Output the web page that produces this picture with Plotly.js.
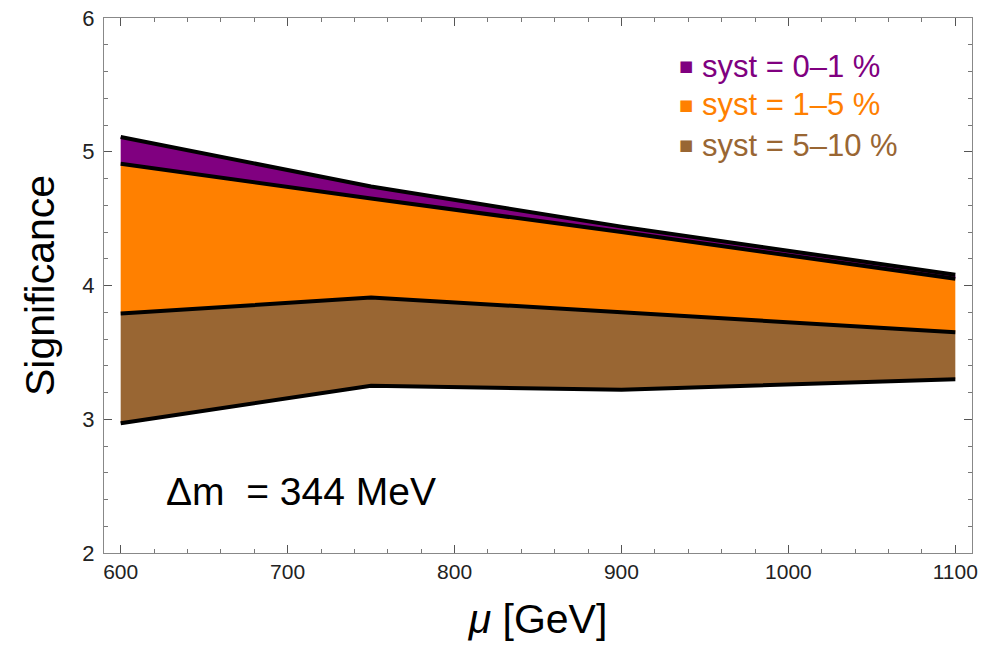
<!DOCTYPE html>
<html>
<head>
<meta charset="utf-8">
<script src="https://cdn.plot.ly/plotly-3.0.1.min.js"></script>
<style>
  html, body { margin: 0; padding: 0; background: #fff; }
  #chart { width: 1001px; height: 654px; }
</style>
</head>
<body>
<div id="chart"></div>
<script>
// Higgsino mass points (GeV)
const mu = [600, 750, 900, 1100];

// Significance for each systematic uncertainty level
const syst0  = [5.11, 4.74, 4.44, 4.08];
const syst1  = [4.91, 4.65, 4.40, 4.05];
const syst5  = [3.79, 3.91, 3.80, 3.65];
const syst10 = [2.97, 3.25, 3.22, 3.30];

const bandNames  = ['syst = 0\u20131 %', 'syst = 1\u20135 %', 'syst = 5\u201310 %'];
const bandColors = ['#800080', '#ff8000', '#996633'];

const massSplitting = '\u0394m  = 344 MeV';

const edge = { color: '#000', width: 4 };

const traces = [
  { x: mu, y: syst10, mode: 'lines', line: edge, hoverinfo: 'skip' },
  { x: mu, y: syst5, mode: 'lines', line: edge, fill: 'tonexty', fillcolor: bandColors[2], hoverinfo: 'skip' },
  { x: mu, y: syst1, mode: 'lines', line: edge, fill: 'tonexty', fillcolor: bandColors[1], hoverinfo: 'skip' },
  { x: mu, y: syst0, mode: 'lines', line: edge, fill: 'tonexty', fillcolor: bandColors[0], hoverinfo: 'skip' }
];

const textFont = 'Liberation Sans, Arial, sans-serif';

// Legend drawn as annotations: a coloured square followed by coloured text
const legendY = [5.64, 5.35, 5.05];
const annotations = [];
bandNames.forEach((name, i) => {
  annotations.push({
    xref: 'x', yref: 'y', x: 933, y: legendY[i], xanchor: 'left', yanchor: 'middle',
    text: '\u25A0', showarrow: false,
    font: { family: 'DejaVu Sans, sans-serif', size: 15, color: bandColors[i] }
  });
  annotations.push({
    xref: 'x', yref: 'y', x: 947, y: legendY[i], xanchor: 'left', yanchor: 'middle',
    text: name, showarrow: false,
    font: { family: textFont, size: 31, color: bandColors[i] }
  });
});
annotations.push({
  xref: 'x', yref: 'y', x: 626, y: 2.46, xanchor: 'left', yanchor: 'middle',
  text: massSplitting, showarrow: false,
  font: { family: textFont, size: 39, color: '#000' }
});

const layout = {
  width: 1001, height: 654,
  margin: { l: 104, r: 29, t: 18, b: 101 },
  paper_bgcolor: '#fff', plot_bgcolor: '#fff',
  showlegend: false,
  xaxis: {
    range: [590, 1110], tickvals: [600, 700, 800, 900, 1000, 1100],
    ticks: 'inside', ticklen: 8, tickcolor: '#555', tickwidth: 1,
    minor: { dtick: 20, tick0: 600, ticks: 'inside', ticklen: 4, tickcolor: '#777' },
    showline: true, linecolor: '#888', linewidth: 1, mirror: 'ticks',
    showgrid: false, zeroline: false,
    tickfont: { family: textFont, size: 21, color: '#222' },
    title: { text: '<i>\u03bc</i> [GeV]', font: { family: textFont, size: 41, color: '#000' }, standoff: 22 }
  },
  yaxis: {
    range: [2, 6], tickvals: [2, 3, 4, 5, 6],
    ticks: 'inside', ticklen: 8, tickcolor: '#555', tickwidth: 1,
    minor: { dtick: 0.2, tick0: 2, ticks: 'inside', ticklen: 4, tickcolor: '#777' },
    showline: true, linecolor: '#888', linewidth: 1, mirror: 'ticks',
    showgrid: false, zeroline: false,
    tickfont: { family: textFont, size: 22, color: '#222' },
    ticklabelstandoff: 4,
    title: { text: 'Significance', font: { family: textFont, size: 41, color: '#000' }, standoff: 14 }
  },
  annotations: annotations
};

Plotly.newPlot('chart', traces, layout, { staticPlot: true });
</script>
</body>
</html>
